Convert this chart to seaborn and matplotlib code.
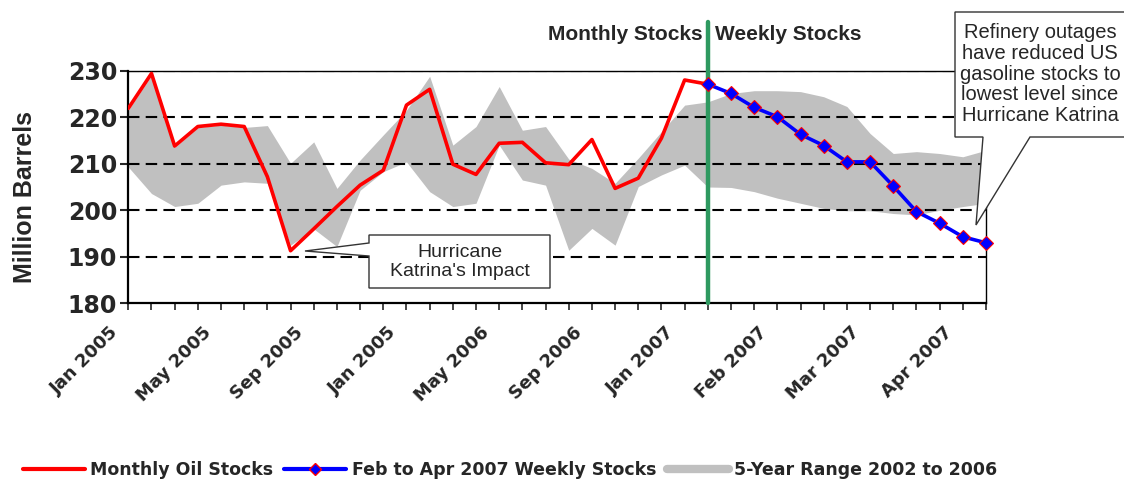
import numpy as np
import pandas as pd
import matplotlib
matplotlib.use("Agg")
import matplotlib.pyplot as plt
import matplotlib.transforms as mtransforms
from matplotlib.patches import Polygon
from matplotlib.lines import Line2D
import seaborn as sns

# Monthly stocks Jan 2005 - Feb 2007 (positions 0-25)
monthly = [221.9, 229.4, 213.8, 218.0, 218.5, 218.0, 207.2, 191.3, 196.0, 200.8,
           205.4, 208.6, 222.6, 226.0, 209.9, 207.7, 214.4, 214.6, 210.2, 209.8,
           215.2, 204.7, 206.9, 215.5, 228.0, 227.1]
# Weekly stocks Feb - Apr 2007 (positions 25-37)
weekly = [227.1, 225.1, 222.1, 220.1, 216.3, 213.9, 210.4, 210.4, 205.2, 199.7,
          197.2, 194.3, 193.0]
# 5-year range 2002-2006
range_hi = [221.5, 229.0, 213.5, 217.8, 218.3, 217.8, 218.2, 210.1, 214.7, 204.7,
            210.8, 216.2, 221.5, 228.8, 214.0, 218.0, 226.6, 217.2, 218.0, 211.0,
            209.0, 205.8, 211.2, 216.9, 222.6, 223.3, 225.1, 225.7, 225.7, 225.5,
            224.4, 222.3, 216.5, 212.2, 212.6, 212.2, 211.5, 212.9]
range_lo = [209.3, 203.6, 200.8, 201.5, 205.4, 206.1, 205.8, 192.5, 196.0, 192.2,
            204.3, 208.3, 210.4, 204.0, 200.8, 201.5, 214.0, 206.5, 205.4, 191.4,
            196.1, 192.5, 205.1, 207.6, 209.7, 205.0, 204.9, 204.0, 202.6, 201.5,
            200.4, 199.9, 199.9, 199.3, 199.0, 200.0, 200.8, 201.5]
tick_labels = ["Jan 2005", "May 2005", "Sep 2005", "Jan 2005", "May 2006",
               "Sep 2006", "Jan 2007", "Feb 2007", "Mar 2007", "Apr 2007"]
y_ticks = [180, 190, 200, 210, 220, 230]

sns.set_style("white")
plt.rcParams['font.family'] = ['DejaVu Sans']

W, H = 1124, 484


def px(x, y):
    # pixel position -> figure fraction
    return (x / W, 1 - y / H)


fig = plt.figure(figsize=(W / 100, H / 100), dpi=100)
ax = fig.add_axes([128.3 / W, 1 - 303.3 / H, (986 - 128.3) / W, (303.3 - 70.7) / H])

n_all = len(range_hi)
idx_all = np.arange(n_all)
df_m = pd.DataFrame({'idx': np.arange(len(monthly)), 'stocks': monthly})
df_w = pd.DataFrame({'idx': np.arange(len(monthly) - 1, len(monthly) - 1 + len(weekly)),
                     'stocks': weekly})
split = len(monthly) - 1

ax.fill_between(idx_all, range_lo, range_hi, color='#c0c0c0', lw=0, zorder=1)
for v in y_ticks[1:]:
    ax.axhline(v, color='black', lw=1.5, ls=(0, (5.5, 3)), zorder=1.5)

sns.lineplot(data=df_m, x='idx', y='stocks', color='red', lw=2.6, ax=ax, zorder=3)
ax.plot([split, split], [180, 240.5], color='#2e9960', lw=3.2, clip_on=False, zorder=3.5)
sns.lineplot(data=df_w, x='idx', y='stocks', color='blue', lw=2.6, marker='D',
             markersize=7, markerfacecolor='blue', markeredgecolor='red',
             markeredgewidth=0.8, ax=ax, zorder=4, clip_on=False)

ax.set_xlim(0, n_all - 1)
ax.set_ylim(180, 230)
ax.set_xlabel('')
ax.set_ylabel('')
ax.set_yticks(y_ticks)
ax.set_yticklabels([str(t) for t in y_ticks], fontsize=17, fontweight='bold')
labels = [''] * n_all
for k, lab in enumerate(tick_labels):
    labels[k * 4] = lab
ax.set_xticks(idx_all)
ax.set_xticklabels(labels, rotation=45, ha='right', va='center',
                   rotation_mode='anchor', fontsize=13, fontweight='bold')
ax.tick_params(axis='y', length=6, width=1.5, pad=2, direction='out', left=True)
ax.tick_params(axis='x', length=5, width=1.2, pad=14, direction='out', bottom=True)
# nudge the slanted month labels left of their ticks
shift = mtransforms.ScaledTranslation(-13 / 100, 0, fig.dpi_scale_trans)
for lab in ax.get_xticklabels():
    lab.set_transform(lab.get_transform() + shift)
for side in ['left', 'bottom']:
    ax.spines[side].set_linewidth(1.6)
    ax.spines[side].set_color('black')
for side in ['top', 'right']:
    ax.spines[side].set_linewidth(1.0)
    ax.spines[side].set_color('black')

fig.text(*px(25, 197), 'Million Barrels', rotation=90, ha='center', va='center',
         fontsize=18, fontweight='bold', family='Liberation Sans')
fig.text(*px(703, 34), 'Monthly Stocks', ha='right', va='center',
         fontsize=15, fontweight='bold', family='Liberation Sans')
fig.text(*px(715, 34), 'Weekly Stocks', ha='left', va='center',
         fontsize=15, fontweight='bold', family='Liberation Sans')

# callouts
katrina = [px(369, 235), px(550, 235), px(550, 288), px(369, 288),
           px(369, 256), px(305, 251), px(369, 243)]
fig.add_artist(Polygon(katrina, closed=True, transform=fig.transFigure,
                       facecolor='white', edgecolor='#333333', lw=1.0, zorder=6))
fig.text(*px(459.5, 262), "Hurricane\nKatrina's Impact", ha='center', va='center',
         fontsize=14, family='Liberation Sans', linespacing=1.15, zorder=7)

refinery = [px(955, 12), px(1127, 12), px(1127, 137), px(1030, 137),
            px(976, 225), px(983, 137), px(955, 137)]
fig.add_artist(Polygon(refinery, closed=True, transform=fig.transFigure,
                       facecolor='white', edgecolor='#333333', lw=1.0, zorder=6))
fig.text(*px(1040, 74), "Refinery outages\nhave reduced US\ngasoline stocks to\n"
         "lowest level since\nHurricane Katrina", ha='center', va='center',
         fontsize=14.5, family='Liberation Sans', linespacing=1.12, zorder=7)

handles = [Line2D([], [], color='red', lw=3),
           Line2D([], [], color='blue', lw=3, marker='D', markersize=6,
                  markerfacecolor='blue', markeredgecolor='red'),
           Line2D([], [], color='#c0c0c0', lw=6)]
names = ['Monthly Oil Stocks', 'Feb to Apr 2007 Weekly Stocks', '5-Year Range 2002 to 2006']
fig.legend(handles, names, loc='center', bbox_to_anchor=px(510, 470), ncol=3,
           frameon=False, prop=dict(weight='bold', size=12.5), handlelength=3.6,
           handletextpad=0.3, columnspacing=0.6)

fig.savefig('out.png', dpi=100)
